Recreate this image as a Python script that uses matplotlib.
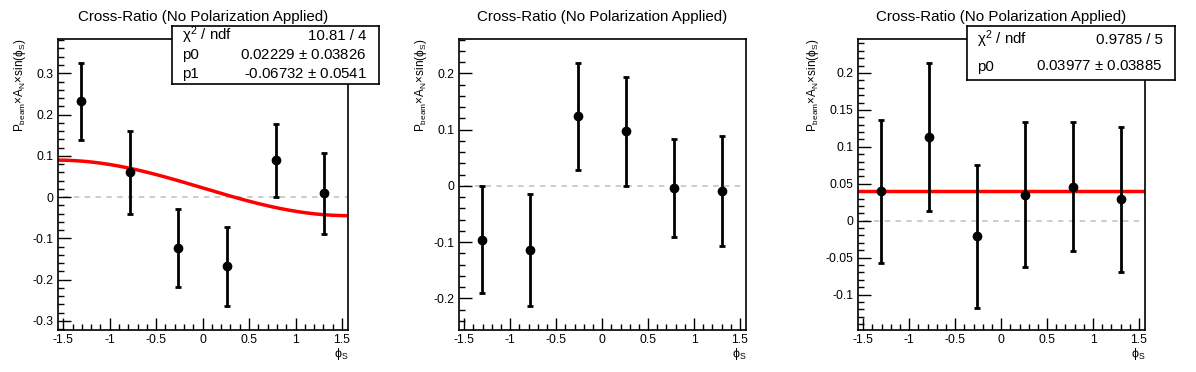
import numpy as np
import matplotlib.pyplot as plt

plt.rcParams['font.family'] = ['Liberation Sans', 'DejaVu Sans']
plt.rcParams['mathtext.fontset'] = 'custom'
plt.rcParams['mathtext.rm'] = 'Liberation Sans'
plt.rcParams['mathtext.it'] = 'Liberation Sans'
plt.rcParams['mathtext.bf'] = 'Liberation Sans'

# bin centres in phi_S (six bins over -pi/2..pi/2)
phi = [-1.309, -0.785, -0.262, 0.262, 0.785, 1.309]

# panel 1: sin fit
y1 = [0.232, 0.060, -0.124, -0.168, 0.089, 0.009]
e1 = [0.093, 0.100, 0.095, 0.095, 0.088, 0.098]
fit1 = [0.02229, -0.06732]
stats1 = [("$\\chi^2$ / ndf", "10.81 / 4"),
          ("p0", "0.02229 $\\pm$ 0.03826"),
          ("p1", "-0.06732 $\\pm$ 0.0541")]

# panel 2: no fit
y2 = [-0.096, -0.114, 0.124, 0.097, -0.004, -0.009]
e2 = [0.095, 0.099, 0.095, 0.097, 0.087, 0.098]

# panel 3: constant fit
y3 = [0.040, 0.113, -0.021, 0.035, 0.046, 0.029]
e3 = [0.097, 0.100, 0.097, 0.098, 0.087, 0.098]
fit3 = [0.03977]
stats3 = [("$\\chi^2$ / ndf", "0.9785 / 5"),
          ("p0", "0.03977 $\\pm$ 0.03885")]

W, H = 1196, 372
fig = plt.figure(figsize=(W / 100, H / 100), dpi=100)

panels = [
    dict(px=(58, 348), ylim=(-0.322, 0.383), minor=0.02, major=0.1, y=y1, e=e1),
    dict(px=(459, 746), ylim=(-0.256, 0.261), minor=0.02, major=0.1, y=y2, e=e2),
    dict(px=(858, 1145), ylim=(-0.148, 0.246), minor=0.01, major=0.05, y=y3, e=e3),
]
top, bottom = 39, 330


def stat_box(fig, x0, x1, y0, y1, rows):
    bx = fig.add_axes([x0 / W, 1 - y1 / H, (x1 - x0) / W, (y1 - y0) / H])
    bx.set_xlim(0, 1)
    bx.set_ylim(0, 1)
    bx.set_xticks([])
    bx.set_yticks([])
    for s in bx.spines.values():
        s.set_linewidth(1.2)
    n = len(rows)
    for i, (k, v) in enumerate(rows):
        yy = 1 - (i + 0.5) / n
        bx.text(0.05, yy, k, ha='left', va='center', fontsize=10.8)
        bx.text(0.94, yy, v, ha='right', va='center', fontsize=10.8)


for i, p in enumerate(panels):
    x0, x1 = p['px']
    ax = fig.add_axes([x0 / W, 1 - bottom / H, (x1 - x0) / W, (bottom - top) / H])
    ax.set_xlim(-1.557, 1.565)
    ax.set_ylim(*p['ylim'])
    ax.hlines(0, -1.5, 1.565, colors='#c8c8c8', linestyles=(0, (3, 3)), linewidth=1.3, zorder=1)
    ax.errorbar(phi, p['y'], yerr=p['e'], fmt='o', color='black', ms=6,
                elinewidth=2, capsize=2, capthick=2, zorder=3)
    if i == 0:
        xf = np.linspace(-1.557, 1.54, 200)
        ax.plot(xf, fit1[0] + fit1[1] * np.sin(xf), color='red', lw=2.5, zorder=2)
    if i == 2:
        ax.axhline(fit3[0], color='red', lw=2.5, zorder=2)
    ax.set_title('Cross-Ratio (No Polarization Applied)', fontsize=10.9, pad=13)
    ax.set_xticks(np.arange(-1.5, 1.51, 0.5))
    ax.set_xticklabels(['-1.5', '-1', '-0.5', '0', '0.5', '1', '1.5'])
    ax.set_xticks(np.arange(-1.5, 1.56, 0.1), minor=True)
    lo, hi = p['ylim']
    maj = np.arange(np.ceil(lo / p['major']) * p['major'], hi, p['major'])
    maj = np.round(maj, 3)
    ax.set_yticks(maj)
    ax.set_yticklabels([('%g' % v) if abs(v) > 1e-9 else '0' for v in maj])
    mn = np.arange(np.ceil(lo / p['minor']) * p['minor'], hi, p['minor'])
    ax.set_yticks(mn, minor=True)
    ax.tick_params(which='both', direction='in', labelsize=8.8, top=False, right=False, width=1)
    ax.tick_params(which='major', length=9)
    ax.tick_params(which='minor', length=4.5)
    ax.tick_params(axis='x', pad=3)
    for s in ax.spines.values():
        s.set_linewidth(1.2)
    ax.set_ylabel('P$_{beam}$$\\times$A$_{N}$$\\times$sin($\\phi_{S}$)', loc='top', fontsize=8.5, labelpad=3)
    ax.set_xlabel('$\\phi_{S}$', loc='right', fontsize=9, labelpad=0)

stat_box(fig, 172, 379, 26, 84, stats1)
stat_box(fig, 967, 1175, 26, 80, stats3)

fig.savefig('out.png', dpi=100)
